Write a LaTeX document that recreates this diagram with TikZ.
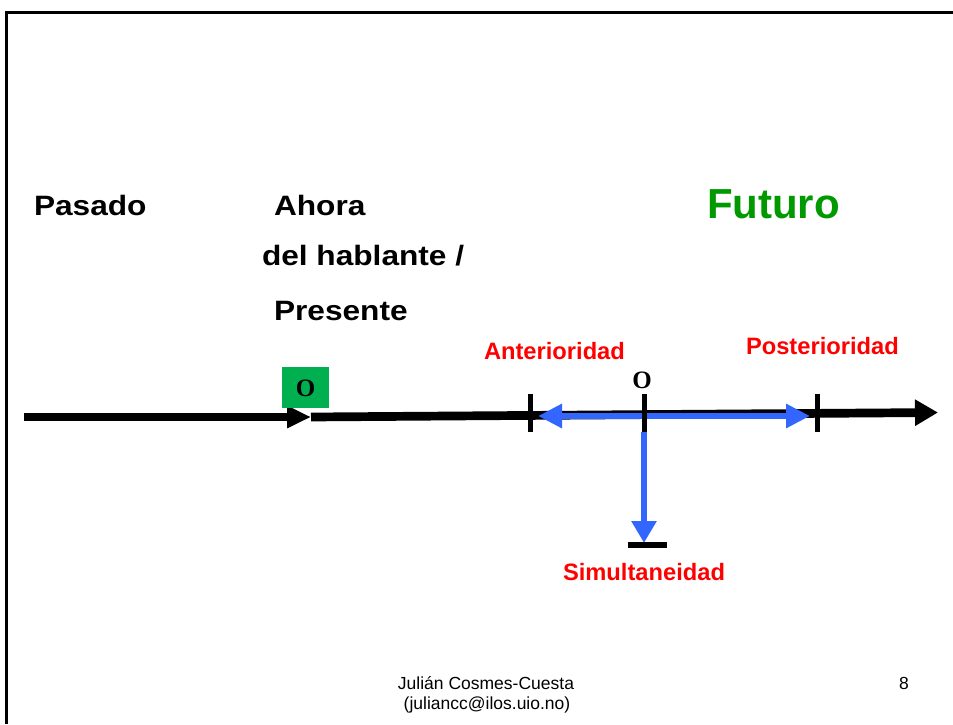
\documentclass[tikz,border=0pt]{standalone}
\usepackage{fontspec}
\setmainfont{Liberation Sans}
\newfontfamily\widesans[FakeStretch=1.13]{Liberation Sans}
\newfontfamily\tnr{Liberation Serif}
\usetikzlibrary{arrows.meta}
\definecolor{tlblue}{RGB}{51,102,255}
\definecolor{boxgreen}{RGB}{0,176,80}
\definecolor{futgreen}{RGB}{0,153,0}
\definecolor{lblred}{RGB}{255,0,0}
\begin{document}
\begin{tikzpicture}[x=1pt,y=-1pt,
  lbl/.style={inner sep=0pt, outer sep=0pt, anchor=base west},
  timelbl/.style={lbl, font=\widesans\bfseries\fontsize{28}{30}\selectfont},
  rellbl/.style={lbl, text=lblred, font=\bfseries\fontsize{23.7}{28}\selectfont},
  olbl/.style={inner sep=0pt, font=\tnr\bfseries\fontsize{25}{27}\selectfont},
  footlbl/.style={inner sep=0pt, anchor=base, font=\fontsize{17.5}{20}\selectfont},
  axisline/.style={line width=8.7pt, -{Triangle[length=24pt,width=21pt]}},
  tickmark/.style={line width=5pt},
  bluearrow/.style={tlblue, line width=6pt},
  frameline/.style={line width=2.6pt}
]
\useasboundingbox (0,0) rectangle (953,724);
% frame
\coordinate (fbl) at (6.2,724);
\coordinate (ftl) at (6.2,12.6);
\coordinate (ftr) at (953,12.6);
\draw[frameline] (fbl) -- (ftl) -- (ftr);

% axis coordinates
\coordinate (a0) at (24,417);
\coordinate (a1) at (311,417);
\coordinate (a2) at (938,412.5);
\draw[axisline] (a0) -- (a1);
\draw[axisline, -{Triangle[length=23pt,width=25pt]}] (a1) -- (a2);

% blue relations
\coordinate (bl) at (538,416);
\coordinate (br) at (810,416);
\draw[bluearrow, {Triangle[length=24pt,width=23pt]}-{Triangle[length=24pt,width=23pt]}] (bl) -- (br);
\coordinate (vtop) at (644,432);
\coordinate (vbot) at (644,543);
\draw[bluearrow, line width=6.5pt, -{Triangle[length=22pt,width=24pt]}] (vtop) -- (vbot);

% ticks
\coordinate (t1a) at (530,394); \coordinate (t1b) at (530,432);
\coordinate (t2a) at (644,394); \coordinate (t2b) at (644,432);
\coordinate (t3a) at (817,394); \coordinate (t3b) at (817,432);
\draw[tickmark] (t1a) -- (t1b);
\draw[tickmark] (t2a) -- (t2b);
\draw[tickmark] (t3a) -- (t3b);
\coordinate (bar1) at (628,545); \coordinate (bar2) at (667,545);
\draw[line width=6pt] (bar1) -- (bar2);

% green box with O
\node[fill=boxgreen, minimum width=47pt, minimum height=41pt, inner sep=0pt] (obox) at (305.5,387.5) {};
\node[olbl, anchor=base] (obox-o) at (305.5,396.5) {O};
\node[olbl, anchor=base] (omid) at (642,388) {O};

% time labels
\node[timelbl] (pasado) at (34,215) {Pasado};
\node[timelbl] (ahora) at (274,215) {Ahora};
\node[timelbl] (hablante) at (262,265) {del hablante /};
\node[timelbl] (presente) at (274,320) {Presente};
\node[lbl, text=futgreen, font=\bfseries\fontsize{42}{48}\selectfont] (futuro) at (707,218) {Futuro};

% relation labels
\node[rellbl] (anter) at (484,359) {Anterioridad};
\node[rellbl] (poster) at (746,354) {Posterioridad};
\node[rellbl] (simul) at (563,580) {Simultaneidad};

% footer
\node[footlbl] (author) at (486,689) {Julián Cosmes-Cuesta};
\node[footlbl] (email) at (487,709) {(juliancc@ilos.uio.no)};
\node[footlbl] (page) at (904,689) {8};
\end{tikzpicture}
\end{document}
